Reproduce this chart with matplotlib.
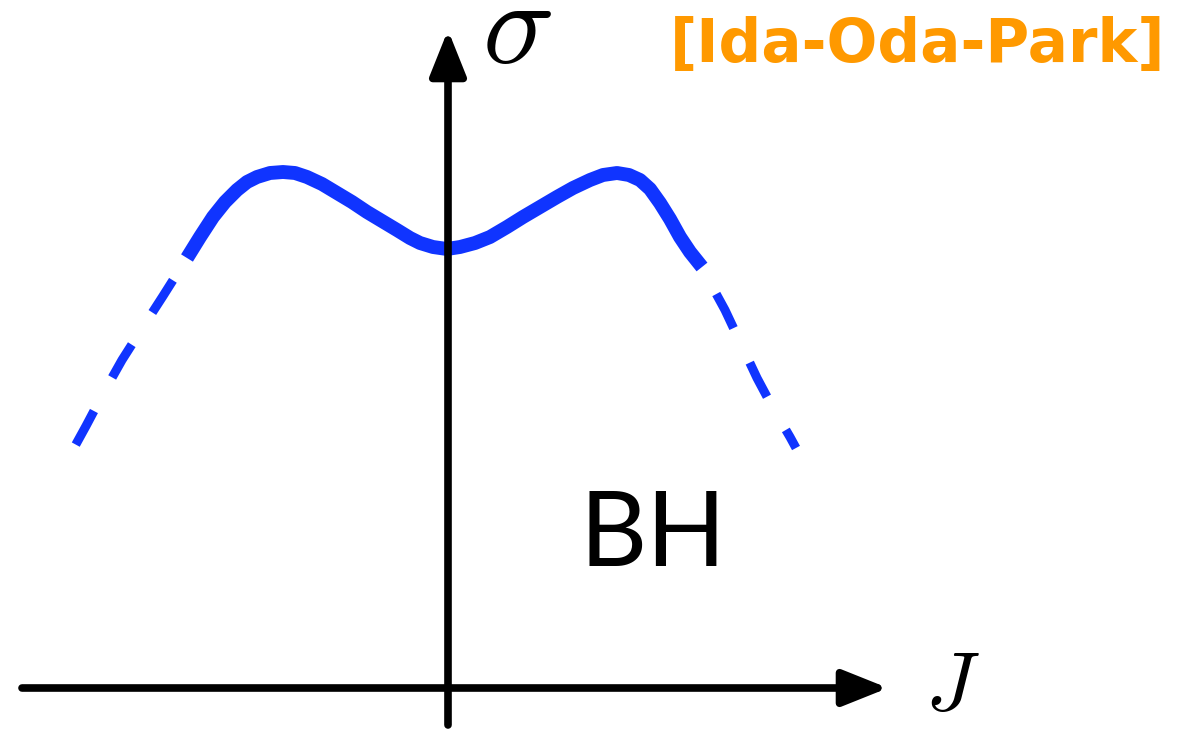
import matplotlib
matplotlib.use("Agg")
import matplotlib.pyplot as plt

# 全部坐标以像素为单位 (原图 1184x729, y 轴向下)
matplotlib.rcParams['mathtext.fontset'] = 'cm'
matplotlib.rcParams['lines.scale_dashes'] = False

W, H = 1184, 729

# 实线部分 (σ 随 J 变化, 双峰)
solid_x = [187, 200, 213, 225, 237, 247, 257, 270, 283, 295, 307, 322, 337, 352, 367, 382,
           397, 410, 420, 433, 447, 460, 475, 490, 507, 523, 540, 557, 573, 590, 603, 617,
           629, 640, 650, 660, 670, 680, 690, 702]
solid_y = [258, 237, 217, 202, 190, 182, 177, 173, 172, 173, 177, 184, 193, 202, 212, 221,
           230, 238, 243, 247, 249, 247, 243, 237, 227, 217, 207, 197, 188, 180, 175, 173,
           175, 180, 189, 203, 219, 237, 252, 267]

# 虚线部分 (左、右两端)
left_x = [187, 175, 163, 143, 122, 104, 86, 75]
left_y = [258, 277, 296, 327, 360, 392, 426, 446]
right_x = [702, 713, 725, 741, 757, 773, 790, 796]
right_y = [267, 288, 310, 344, 378, 408, 437, 448]

# 坐标轴 (箭头)
h_axis = (22, 888, 688)   # x 起点, x 终点, y
v_axis = (448, 725, 30)   # x, y 起点, y 终点

blue = '#1034ff'
orange = '#ff9900'


def main():
    fig = plt.figure(figsize=(W / 100, H / 100), dpi=100)
    ax = fig.add_axes([0, 0, 1, 1])
    ax.set_xlim(0, W)
    ax.set_ylim(H, 0)
    ax.axis('off')

    arrow = dict(arrowstyle='-|>,head_length=0.55,head_width=0.22', lw=5.5,
                 color='black', mutation_scale=50, shrinkA=0, shrinkB=0)
    ax.annotate('', xy=(h_axis[1], h_axis[2]), xytext=(h_axis[0], h_axis[2]), arrowprops=arrow)
    ax.annotate('', xy=(v_axis[0], v_axis[2]), xytext=(v_axis[0], v_axis[1]), arrowprops=arrow)

    ax.plot(solid_x, solid_y, color=blue, lw=10, solid_capstyle='butt', solid_joinstyle='round')
    # 虚线从间隙开始
    ax.plot(left_x, left_y, color=blue, lw=6.5, ls=(36, (27.5, 27.5)))
    ax.plot(right_x, right_y, color=blue, lw=6.5, ls=(33, (27.5, 27.5)))

    ax.text(517, 63, r'$\sigma$', fontsize=86, ha='center', va='baseline')
    ax.text(952, 687, r'$J$', fontsize=60, ha='center', va='center')
    ax.text(653, 536, 'BH', fontsize=75, family='Lato', ha='center', va='center')
    ax.text(918, 45, '[Ida-Oda-Park]', fontsize=43, family='DejaVu Sans', weight='bold',
            color=orange, ha='center', va='center')

    fig.savefig('out.png', dpi=100)


if __name__ == '__main__':
    main()
